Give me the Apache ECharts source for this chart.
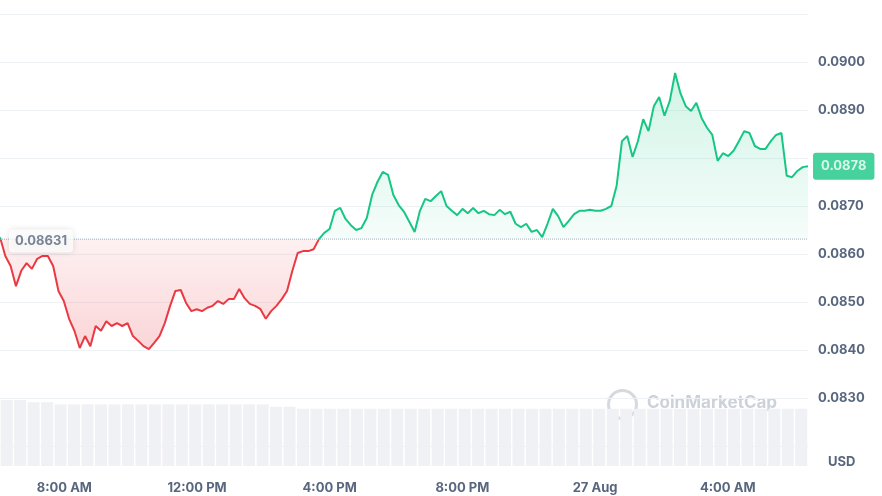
<!DOCTYPE html><html><head><meta charset="utf-8"><script src="https://cdn.jsdelivr.net/npm/echarts@6/dist/echarts.min.js"></script>
<style>html,body{margin:0;background:#fff}#c{width:882px;height:496px}</style></head><body><div id="c"></div><script>
const startHour = 6.06, endHour = 30.42;
const baseline = 0.08631;
const prices = [0.08635,0.08596,0.08575,0.08533,0.08565,0.08581,0.08569,0.08590,0.08596,0.08596,0.08575,0.08523,0.08502,0.08465,0.08440,0.08404,0.08429,0.08408,0.08450,0.08440,0.08460,0.08450,0.08456,0.08450,0.08456,0.08429,0.08419,0.08408,0.08402,0.08415,0.08429,0.08456,0.08492,0.08523,0.08525,0.08498,0.08481,0.08485,0.08481,0.08488,0.08492,0.08502,0.08496,0.08506,0.08506,0.08527,0.08508,0.08496,0.08492,0.08485,0.08465,0.08481,0.08492,0.08506,0.08523,0.08565,0.08602,0.08606,0.08606,0.08610,0.08631,0.08644,0.08652,0.08690,0.08696,0.08673,0.08660,0.08650,0.08654,0.08675,0.08723,0.08750,0.08771,0.08765,0.08723,0.08702,0.08688,0.08667,0.08646,0.08690,0.08715,0.08710,0.08721,0.08731,0.08700,0.08690,0.08681,0.08694,0.08685,0.08696,0.08685,0.08690,0.08683,0.08681,0.08692,0.08683,0.08688,0.08663,0.08656,0.08663,0.08646,0.08650,0.08635,0.08663,0.08694,0.08679,0.08656,0.08669,0.08683,0.08690,0.08690,0.08692,0.08690,0.08690,0.08694,0.08700,0.08742,0.08835,0.08846,0.08802,0.08835,0.08881,0.08856,0.08908,0.08927,0.08888,0.08919,0.08977,0.08935,0.08908,0.08898,0.08915,0.08883,0.08863,0.08848,0.08794,0.08810,0.08804,0.08815,0.08835,0.08856,0.08852,0.08825,0.08819,0.08819,0.08835,0.08848,0.08852,0.08763,0.08760,0.08773,0.08781,0.08783];
const volumes = [30,30,29,29,28,28,28,28,28,28,28,28,28,28,28,28,28,28,28,28,27,27,26,26,26,26,26,26,26,26,26,26,26,26,26,26,26,26,26,26,26,26,26,26,26,26,26,26,26,26,26,26,26,26,26,26,26,26,26,26];
const yTicks = ['0.0830','0.0840','0.0850','0.0860','0.0870','0.0890','0.0900'];
const xTickHours = [8,12,16,20,24,28];
const xTickLabels = ['8:00 AM','12:00 PM','4:00 PM','8:00 PM','27 Aug','4:00 AM'];

const step = (endHour-startHour)/(prices.length-1);
const pdata = prices.map((v,i)=>[startHour+i*step, v]);
const vstep = (endHour-startHour)/volumes.length;
const vdata = volumes.map((v,i)=>[startHour+(i+0.5)*vstep, v]);
const last = prices[prices.length-1];
const hi = Math.max(...prices), lo = Math.min(...prices);
const s = (hi-baseline)/(hi-lo);
const G='#16c784', R='#ea3943';
const lineGrad = new echarts.graphic.LinearGradient(0,0,0,1,[{offset:0,color:G},{offset:s,color:G},{offset:s,color:R},{offset:1,color:R}]);
const areaGrad = new echarts.graphic.LinearGradient(0,0,0,1,[
  {offset:0,color:'rgba(22,199,132,0.28)'},{offset:s,color:'rgba(22,199,132,0.06)'},
  {offset:s,color:'rgba(234,57,67,0.10)'},{offset:1,color:'rgba(234,57,67,0.30)'}]);
const lbl = {fontFamily:'Inter',fontWeight:'bold',fontSize:13};

const chart = echarts.init(document.getElementById('c'));
chart.setOption({
  animation:false,
  grid:[{left:0,right:74,top:14,bottom:50},{left:0,right:74,top:400,bottom:30}],
  xAxis:[
    {type:'value',gridIndex:0,min:startHour,max:endHour,show:false},
    {type:'value',gridIndex:1,min:startHour,max:endHour,splitLine:{show:false},axisLine:{show:false},axisTick:{show:false},
     axisLabel:Object.assign({customValues:xTickHours,formatter:v=>xTickLabels[xTickHours.indexOf(Math.round(v))]||'',color:'#58667e',margin:16},lbl)}
  ],
  yAxis:[
    {type:'value',gridIndex:0,position:'right',min:0.082,max:0.091,interval:0.001,
     splitLine:{lineStyle:{color:'#eff2f5'}},axisLine:{show:false},axisTick:{show:false},
     axisLabel:Object.assign({formatter:v=>{const t=v.toFixed(4);return yTicks.includes(t)?t:'';},color:'#58667e',margin:10},lbl)},
    {type:'value',gridIndex:1,min:0,max:30,show:false}
  ],
  series:[
    {type:'bar',xAxisIndex:1,yAxisIndex:1,data:vdata,barWidth:12,itemStyle:{color:'#f0f1f4'},silent:true,z:1},
    {type:'line',xAxisIndex:0,yAxisIndex:0,data:[[startHour,baseline],[endHour,baseline]],showSymbol:false,z:2,
     lineStyle:{type:'dotted',color:'#a6b0c3',width:1},silent:true},
    {type:'line',xAxisIndex:0,yAxisIndex:0,data:pdata,showSymbol:false,lineStyle:{width:2,color:lineGrad},
     areaStyle:{origin:baseline,color:areaGrad},z:3},
    {type:'scatter',xAxisIndex:0,yAxisIndex:0,data:[[startHour,baseline]],symbolSize:0,z:5,silent:true,
     label:Object.assign({show:true,formatter:'0.08631',position:'right',offset:[4,2],color:'#58667e',backgroundColor:'#fff',padding:[5,6],borderRadius:4,shadowColor:'rgba(0,0,0,0.15)',shadowBlur:6},lbl)},
    {type:'scatter',xAxisIndex:0,yAxisIndex:0,data:[[endHour,last]],symbolSize:0,z:5,silent:true,
     label:Object.assign({show:true,formatter:'0.0878',position:'right',offset:[0,0],color:'#fff',backgroundColor:'#16c784',padding:[7,8],borderRadius:3},lbl)}
  ],
  graphic:[
    {type:'circle',left:606,top:388,shape:{r:14},style:{fill:'none',stroke:'#d5d9e0',lineWidth:3}},
    {type:'text',left:647,top:394,style:{text:'CoinMarketCap',fill:'#cdd2da',font:'bold 17px Inter'}},
    {type:'text',left:828,top:456,style:{text:'USD',fill:'#58667e',font:'bold 13px Inter'}}
  ]
});
</script></body></html>
